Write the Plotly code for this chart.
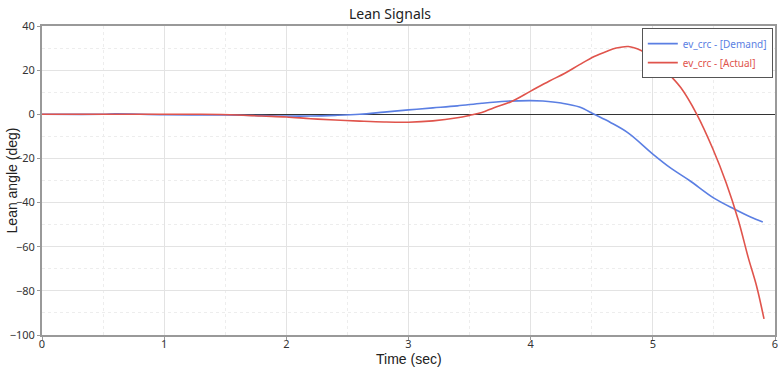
import plotly.graph_objects as go

demand_t = [0, 0.5, 0.6, 1.0, 1.5, 1.8, 2.0, 2.2, 2.4, 2.6, 2.8, 3.0, 3.2, 3.4, 3.6, 3.8, 4.0, 4.1, 4.25, 4.4,
            4.52, 4.65, 4.8, 5.0, 5.15, 5.3, 5.5, 5.67, 5.8, 5.9]
demand_v = [0, 0, 0.2, -0.2, -0.3, -0.6, -0.8, -0.8, -0.5, 0, 1.0, 2.0, 2.9, 3.8, 5.0, 5.9, 6.2, 6.0, 5.1, 3.3,
            0, -3.6, -8.5, -18, -24.5, -30, -38, -43, -46.5, -48.8]

actual_t = [0, 0.5, 1.0, 1.3, 1.6, 1.8, 2.0, 2.2, 2.4, 2.6, 2.8, 3.0, 3.2, 3.4, 3.5, 3.6, 3.7, 3.84, 4.0, 4.15,
            4.28, 4.4, 4.52, 4.62, 4.7, 4.8, 4.9, 5.0, 5.1, 5.23, 5.36, 5.49, 5.6, 5.7, 5.78, 5.85, 5.91]
actual_v = [0, 0, 0, 0, -0.3, -0.8, -1.2, -2.0, -2.6, -3.1, -3.5, -3.6, -3.0, -1.6, -0.5, 0.8, 3.0, 5.7, 10.5, 15,
            18.6, 22.5, 26.2, 28.5, 30, 30.7, 29, 25.5, 20, 12, 0, -15.5, -31, -48, -64.7, -78, -92.7]

x_ticks = [0, 1, 2, 3, 4, 5, 6]
y_ticks = [40, 20, 0, -20, -40, -60, -80, -100]

BLUE = "#5B7FE3"
RED = "#E0544C"

fig = go.Figure()
fig.add_trace(go.Scatter(x=demand_t, y=demand_v, mode="lines", line=dict(color=BLUE, width=1.6, shape="spline"),
                         name=f"<span style='color:{BLUE}'>ev_crc - [Demand]</span>"))
fig.add_trace(go.Scatter(x=actual_t, y=actual_v, mode="lines", line=dict(color=RED, width=1.6, shape="spline"),
                         name=f"<span style='color:{RED}'>ev_crc - [Actual]</span>"))

fig.update_layout(
    width=780, height=367,
    margin=dict(l=42, r=5, t=26, b=32, autoexpand=False),
    paper_bgcolor="white", plot_bgcolor="white",
    font=dict(family="Noto Sans, DejaVu Sans, sans-serif", size=11, color="#333"),
    title=dict(text="Lean Signals", x=0.5, xanchor="center", y=0.975, yanchor="top",
               font=dict(family="Noto Sans", size=14, color="#222")),
    showlegend=True,
    legend=dict(x=0.997, y=0.993, xanchor="right", yanchor="top", bgcolor="white",
                bordercolor="#555", borderwidth=1, font=dict(size=10),
                itemwidth=30, tracegroupgap=0),
    annotations=[
        dict(text="Time (sec)", x=0.5, y=-0.045, xref="paper", yref="paper", xanchor="center", yanchor="top",
             showarrow=False, font=dict(family="Liberation Sans, Arial", size=14, color="#222")),
        dict(text="Lean angle (deg)", x=-0.041, y=0.5, xref="paper", yref="paper", xanchor="center", yanchor="middle",
             textangle=-90, showarrow=False, font=dict(family="Liberation Sans, Arial", size=14, color="#222")),
    ],
)
fig.update_xaxes(
    range=[0, 6], tickvals=x_ticks, ticks="outside", ticklen=3, tickcolor="#999", automargin=False,
    ticklabelstandoff=-5,
    showline=True, linecolor="#999", linewidth=2, mirror=True,
    showgrid=True, gridcolor="#e3e3e3", gridwidth=1, zeroline=False,
    minor=dict(dtick=0.5, showgrid=True, gridcolor="#ededed", griddash="dot", ticks=""),
)
fig.update_yaxes(
    range=[-100, 40], tickvals=y_ticks, ticks="outside", ticklen=3, tickcolor="#999", automargin=False,
    showline=True, linecolor="#999", linewidth=2, mirror=True,
    showgrid=True, gridcolor="#e3e3e3", gridwidth=1,
    zeroline=True, zerolinecolor="#333", zerolinewidth=1,
    minor=dict(dtick=10, showgrid=True, gridcolor="#ededed", griddash="dot", ticks=""),
)

fig.write_html("out.html", config={"displayModeBar": False})

# remove the browser's default 8px body margin so the figure sits at the page origin
with open("out.html", encoding="utf-8") as f:
    html = f.read()
html = html.replace("<body>", '<body style="margin:0;padding:0;overflow:hidden">', 1)
with open("out.html", "w", encoding="utf-8") as f:
    f.write(html)
